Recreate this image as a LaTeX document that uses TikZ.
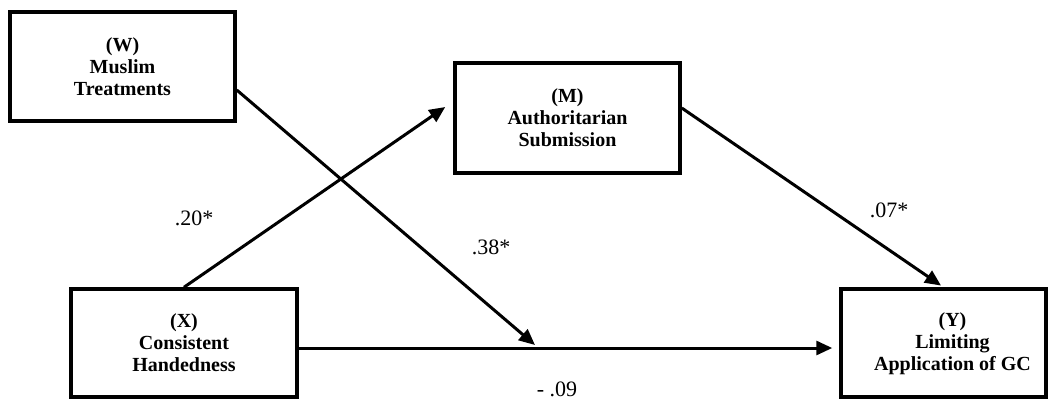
\documentclass[tikz,border=0pt]{standalone}
\usepackage{fontspec}
\setmainfont{Liberation Serif}
\usetikzlibrary{arrows.meta}
\begin{document}
\begin{tikzpicture}[x=1pt,y=1pt,
  varfont/.style={align=center,inner sep=0pt,font=\fontsize{20}{22}\selectfont\bfseries},
  varbox/.style={draw,line width=3.5pt,varfont},
  path/.style={line width=3pt,-{Triangle[length=16pt,width=14pt]}},
  coef/.style={font=\fontsize{22}{24}\selectfont}]
\useasboundingbox (0,0) rectangle (1052,400);
\node[varbox,minimum width=225,minimum height=109] (W) at (122.5,333.5) {(W)\\Muslim\\Treatments};
\node[varbox,minimum width=225,minimum height=110] (M) at (567.5,282) {(M)\\Authoritarian\\Submission};
\node[varbox,minimum width=226,minimum height=108] (X) at (184,57) {(X)\\Consistent\\Handedness};
\node[varbox,minimum width=205,minimum height=108] (Y) at (943.5,57) {};
\node[varfont] (Ytext) at ([xshift=9pt,yshift=-1pt]Y.center) {(Y)\\Limiting\\Application of GC};
\coordinate (mod) at (535,55);
\draw[path] (X.north) -- ([xshift=-8pt,yshift=11pt]M.west);
\draw[path,shorten >=7pt] ([yshift=-5pt]X.east) -- ([yshift=-5pt]Y.west);
\draw[path] ([yshift=-23.5pt]W.east) -- (mod);
\draw[path,shorten >=3pt] ([yshift=10pt]M.east) -- (Y.north);
\node[coef] (l1) at (194,182) {.20*};
\node[coef] (l2) at (491,153) {.38*};
\node[coef] (l3) at (889,190) {.07*};
\node[coef] (l4) at (557,11) {- .09};
\end{tikzpicture}
\end{document}
